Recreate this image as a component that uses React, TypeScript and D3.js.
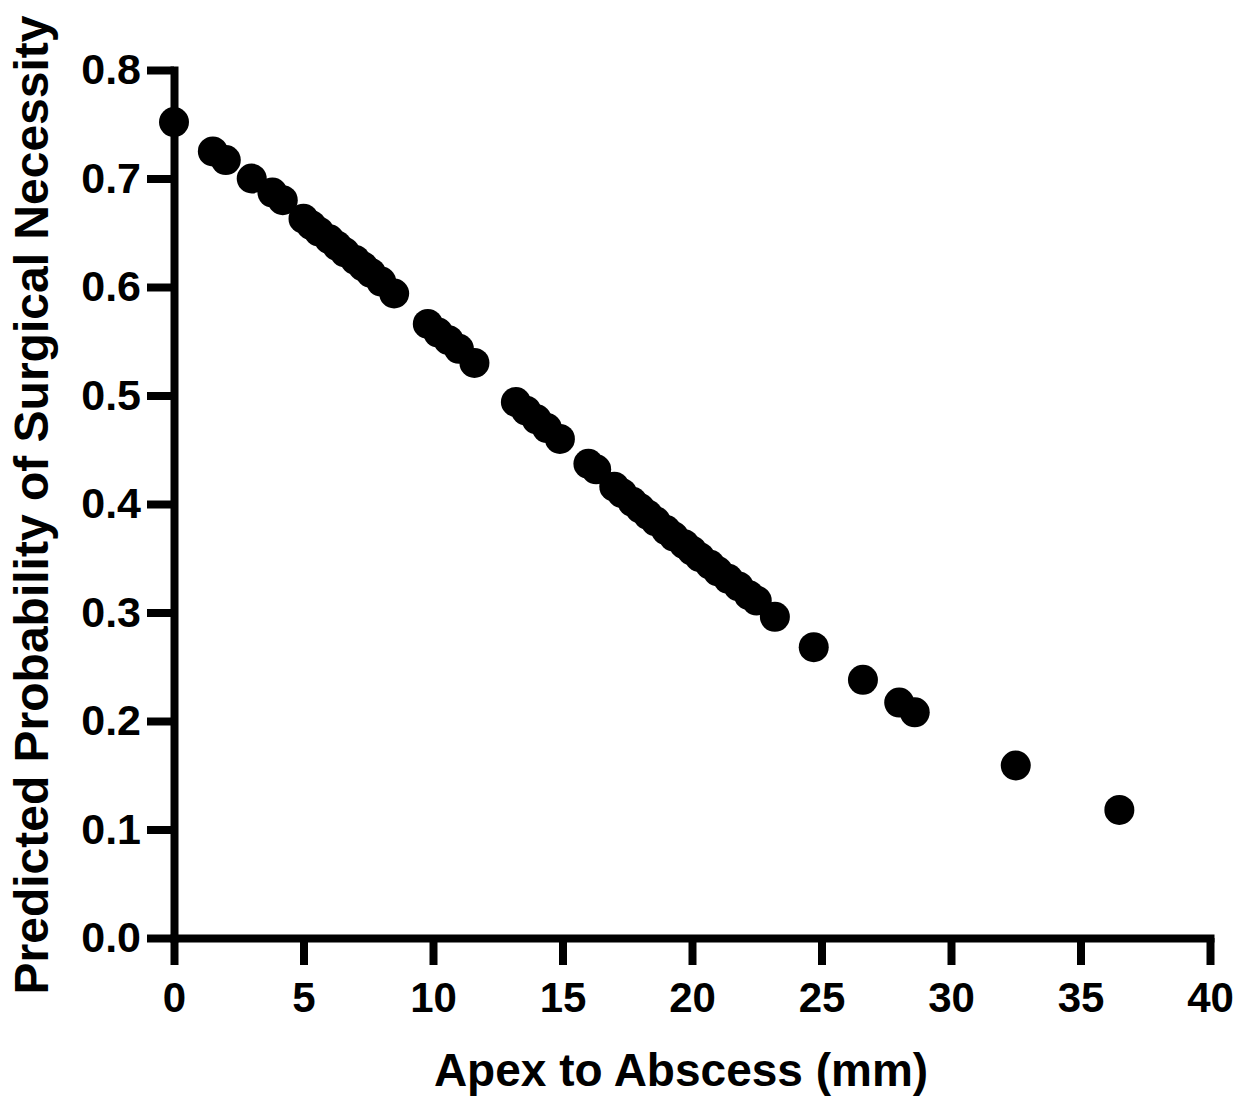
import { useEffect, useRef } from "react";
import * as d3 from "d3";

// distance from apex to abscess (mm)
const apexDistance = [
  0, 1.5, 2.0, 3.0, 3.8, 4.2,
  5.0, 5.3, 5.6, 6.0, 6.3, 6.6, 7.0, 7.3, 7.6, 8.0, 8.5,
  9.8, 10.2, 10.6, 11.0, 11.6,
  13.2, 13.6, 14.0, 14.4, 14.9,
  16.0, 16.3,
  17.0, 17.3, 17.7, 18.0, 18.3, 18.6, 19.0, 19.3, 19.7, 20.0,
  20.3, 20.7, 21.0, 21.4, 21.8, 22.2, 22.5, 23.2,
  24.7, 26.6, 28.0, 28.6, 32.5, 36.5,
];

// predicted probability of surgical necessity
const probability = [
  0.752, 0.725, 0.717, 0.7, 0.687, 0.68,
  0.663, 0.657, 0.651, 0.644, 0.638, 0.632, 0.625, 0.619, 0.613, 0.605, 0.594,
  0.566, 0.558, 0.551, 0.543, 0.53,
  0.494, 0.486, 0.478, 0.47, 0.46,
  0.437, 0.432,
  0.416, 0.41, 0.402, 0.396, 0.39, 0.384, 0.376, 0.37, 0.363, 0.357,
  0.351, 0.344, 0.338, 0.331, 0.324, 0.316, 0.311, 0.296,
  0.268, 0.238, 0.217, 0.208, 0.159, 0.118,
];

const xTicks = [0, 5, 10, 15, 20, 25, 30, 35, 40];
const yTicks = [0, 0.1, 0.2, 0.3, 0.4, 0.5, 0.6, 0.7, 0.8];

const xTitle = "Apex to Abscess (mm)";
const yTitle = "Predicted Probability of Surgical Necessity";

const App = () => {
  const chartRef = useRef<SVGSVGElement | null>(null);

  useEffect(() => {
    const width = 1251;
    const height = 1102;
    const left = 174;
    const right = 1210;
    const top = 70;
    const bottom = 938;
    const font = "'Liberation Sans', Arial, Helvetica, sans-serif";

    const svg = d3.select(chartRef.current);
    svg.selectAll("*").remove();
    svg.attr("width", width).attr("height", height);

    svg.append("rect").attr("width", width).attr("height", height).attr("fill", "#fff");

    const x = d3.scaleLinear().domain([0, 40]).range([left, right]);
    const y = d3.scaleLinear().domain([0, 0.8]).range([bottom, top]);

    const points = apexDistance.map((d, i) => ({ d, p: probability[i] }));

    // axes
    const xAxis = svg.append("g")
      .attr("transform", `translate(0,${bottom})`)
      .call(
        d3.axisBottom(x)
          .tickValues(xTicks)
          .tickFormat(d3.format("d"))
          .tickSize(27)
          .tickSizeOuter(0)
          .tickPadding(17)
      );

    const yAxis = svg.append("g")
      .attr("transform", `translate(${left},0)`)
      .call(
        d3.axisLeft(y)
          .tickValues(yTicks)
          .tickFormat(d3.format(".1f"))
          .tickSize(27)
          .tickSizeOuter(0)
          .tickPadding(6)
      );

    [xAxis, yAxis].forEach((g) => {
      g.select(".domain")
        .attr("stroke", "#000")
        .attr("stroke-width", 8)
        .attr("stroke-linecap", "square");
      g.selectAll(".tick line").attr("stroke", "#000").attr("stroke-width", 8);
      g.selectAll(".tick text")
        .attr("fill", "#000")
        .style("font-family", font)
        .style("font-weight", "bold");
    });
    xAxis.selectAll(".tick text").style("font-size", "42px");
    yAxis.selectAll(".tick text").style("font-size", "43px");

    // dots
    svg.append("g")
      .selectAll("circle")
      .data(points)
      .enter()
      .append("circle")
      .attr("cx", (d) => x(d.d))
      .attr("cy", (d) => y(d.p))
      .attr("r", 15)
      .attr("fill", "#000");

    // titles
    svg.append("text")
      .attr("x", 681)
      .attr("y", 1086)
      .attr("text-anchor", "middle")
      .style("font-family", font)
      .style("font-weight", "bold")
      .style("font-size", "46px")
      .attr("fill", "#000")
      .text(xTitle);

    svg.append("text")
      .attr("transform", "translate(48,505) rotate(-90)")
      .attr("text-anchor", "middle")
      .style("font-family", font)
      .style("font-weight", "bold")
      .style("font-size", "48px")
      .attr("fill", "#000")
      .text(yTitle);
  }, []);

  return (
    <svg
      ref={chartRef}
      style={{ position: "absolute", left: 0, top: 0, display: "block" }}
    />
  );
};

export default App;
